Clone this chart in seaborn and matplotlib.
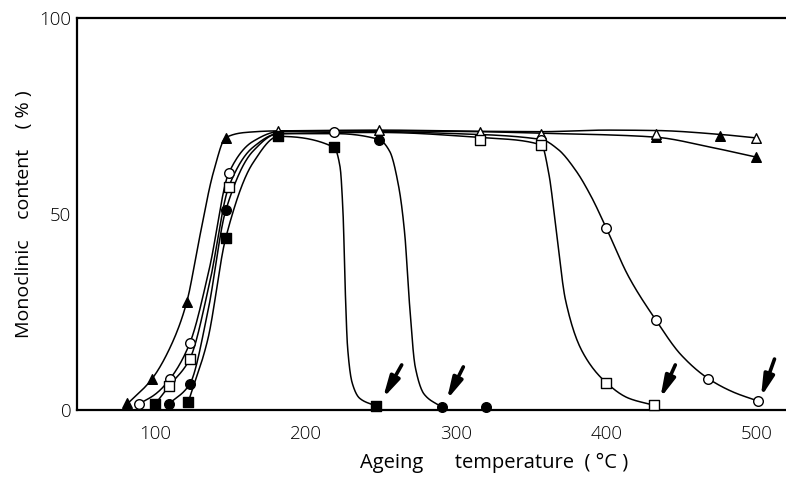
import numpy as np
import matplotlib
matplotlib.use("Agg")
import matplotlib.pyplot as plt
import seaborn as sns

# Measured points (ageing temperature in °C, monoclinic content in %)
tri_f_T = [81, 98, 121, 147, 433, 476, 500]
tri_f_Y = [1.8, 8, 27.5, 69.5, 69.6, 69.8, 64.5]

tri_o_T = [182, 249, 316, 357, 433, 500]
tri_o_Y = [71.2, 71.4, 71.0, 70.5, 70.3, 69.4]

circ_o_T = [89, 110, 123, 149, 219, 357, 400, 433, 468, 501]
circ_o_Y = [1.5, 8, 17, 60.5, 71, 69, 46.5, 23, 8, 2.3]

sq_o_T = [109, 123, 149, 316, 357, 400, 432]
sq_o_Y = [6, 13, 57, 69, 67.6, 7, 1.2]

circ_f_T = [109, 123, 147, 249, 291, 320]
circ_f_Y = [1.5, 6.6, 51, 69, 0.7, 0.7]

sq_f_T = [100, 122, 147, 182, 219, 247]
sq_f_Y = [1.5, 2, 44, 69.8, 67, 1]

# Nodes of the hand-drawn guide curves
curve_tri_f_T = [80, 98, 110, 121, 129, 139, 147, 160, 182, 250, 316, 357, 400, 433, 470, 500]
curve_tri_f_Y = [1.0, 8, 16, 27.5, 43, 61, 69.5, 70.8, 71.2, 71.2, 71.0, 70.6, 70.2, 69.6, 67, 64.5]

curve_tri_o_T = [182, 250, 316, 357, 400, 433, 476, 500]
curve_tri_o_Y = [71.2, 71.4, 71.1, 71.0, 71.4, 71.3, 70.3, 69.4]

curve_circ_o_T = [89, 100, 110, 123, 136, 149, 165, 182, 219, 300, 357, 368, 380, 390, 400, 415, 433, 450, 468, 485, 501]
curve_circ_o_Y = [1.5, 4, 8, 17, 36, 60.5, 68.5, 71, 71.2, 70.5, 69, 66.5, 61, 54.5, 46.5, 34, 23, 14, 8, 4.5, 2.3]

curve_sq_o_T = [100, 109, 123, 136, 149, 165, 182, 250, 316, 357, 362, 367, 373, 384, 400, 415, 432]
curve_sq_o_Y = [1.5, 6, 13, 32, 57, 67, 70.5, 70.8, 69.5, 67.6, 60, 45, 28, 15, 7, 3, 1.2]

curve_circ_f_T = [109, 123, 135, 147, 165, 182, 220, 249, 256, 262, 266, 269, 273, 279, 291]
curve_circ_f_Y = [1.5, 6.6, 25, 51, 66, 70.5, 70.5, 69, 66, 57, 45, 28, 11, 4, 0.7]

curve_sq_f_T = [122, 135, 147, 165, 182, 219, 223, 225, 226.5, 228, 231, 236, 247]
curve_sq_f_Y = [2, 18, 44, 63, 69.8, 67, 62, 50, 30, 16, 7, 3, 1]

# Arrows marking the end of each transformation (tail -> head)
arrow_tails = [(264, 11.5), (305, 11.0), (446, 11.5), (512, 13.0)]
arrow_heads = [(251.5, 3.0), (294, 2.6), (436, 3.0), (503, 3.3)]

x_ticks = [100, 150, 200, 250, 300, 350, 400, 450, 500]
x_ticklabels = ["100", "", "200", "", "300", "", "400", "", "500"]
y_ticks = [0, 50, 100]


def pchip(x, y, xs):
    """Shape-preserving cubic through the curve nodes."""
    x = np.asarray(x, float)
    y = np.asarray(y, float)
    h = np.diff(x)
    d = np.diff(y) / h
    n = len(x)
    m = np.zeros(n)
    for k in range(1, n - 1):
        if d[k - 1] * d[k] <= 0:
            m[k] = 0.0
        else:
            w1 = 2 * h[k] + h[k - 1]
            w2 = h[k] + 2 * h[k - 1]
            m[k] = (w1 + w2) / (w1 / d[k - 1] + w2 / d[k])
    m[0] = d[0]
    m[-1] = d[-1]
    idx = np.clip(np.searchsorted(x, xs) - 1, 0, n - 2)
    t = (xs - x[idx]) / h[idx]
    h00 = 2 * t**3 - 3 * t**2 + 1
    h10 = t**3 - 2 * t**2 + t
    h01 = -2 * t**3 + 3 * t**2
    h11 = t**3 - t**2
    return h00 * y[idx] + h10 * h[idx] * m[idx] + h01 * y[idx + 1] + h11 * h[idx] * m[idx + 1]


sns.set_style("white")
plt.rcParams["font.family"] = ["Open Sans", "DejaVu Sans"]
plt.rcParams["font.weight"] = "light"
plt.rcParams["text.color"] = "black"
plt.rcParams["axes.labelcolor"] = "black"
plt.rcParams["xtick.color"] = "black"
plt.rcParams["ytick.color"] = "black"

fig = plt.figure(figsize=(7.86, 4.82), dpi=100)
ax = fig.add_axes([77 / 786, 1 - 410 / 482, 1 - 77 / 786 + 0.002, (410 - 18) / 482])

curves = [
    (curve_tri_f_T, curve_tri_f_Y),
    (curve_tri_o_T, curve_tri_o_Y),
    (curve_circ_o_T, curve_circ_o_Y),
    (curve_sq_o_T, curve_sq_o_Y),
    (curve_circ_f_T, curve_circ_f_Y),
    (curve_sq_f_T, curve_sq_f_Y),
]
for cT, cY in curves:
    xs = np.linspace(cT[0], cT[-1], 600)
    ys = pchip(cT, cY, xs)
    sns.lineplot(x=xs, y=ys, ax=ax, color="black", linewidth=1.1,
                 sort=False, estimator=None, zorder=2)

series = [
    (tri_f_T, tri_f_Y, "^", "black"),
    (tri_o_T, tri_o_Y, "^", "white"),
    (circ_o_T, circ_o_Y, "o", "white"),
    (sq_o_T, sq_o_Y, "s", "white"),
    (circ_f_T, circ_f_Y, "o", "black"),
    (sq_f_T, sq_f_Y, "s", "black"),
]
for T, Y, mk, fc in series:
    sns.scatterplot(x=T, y=Y, ax=ax, marker=mk, color=fc, edgecolor="black",
                    linewidth=1.0, s=48, zorder=4, clip_on=False)

for (tx, ty), (hx, hy) in zip(arrow_tails, arrow_heads):
    ax.annotate("", xy=(hx, hy), xytext=(tx, ty),
                arrowprops=dict(arrowstyle="-|>,head_length=0.9,head_width=0.22",
                                mutation_scale=14, color="black", lw=2.6,
                                shrinkA=0, shrinkB=0),
                annotation_clip=False, zorder=5)

ax.set_xlim(48, 520.7)
ax.set_ylim(0, 100)

ax.set_xticks(x_ticks)
ax.set_xticklabels(x_ticklabels)
ax.set_yticks(y_ticks)
ax.set_yticks(np.arange(0, 101, 10), minor=True)
ax.tick_params(axis="x", direction="in", length=7, width=1.2, labelsize=13.5,
               pad=11, colors="black")
ax.tick_params(axis="y", which="both", direction="in", length=6, width=1.2,
               labelsize=13.5, pad=4, colors="black")

for side in ["left", "top", "bottom"]:
    ax.spines[side].set_visible(True)
    ax.spines[side].set_color("black")
    ax.spines[side].set_linewidth(1.6)
ax.spines["right"].set_visible(False)

ax.set_xlabel("Ageing      temperature  ( °C )", fontsize=14.5, color="black")
ax.xaxis.set_label_coords((493 - 77) / (786 - 77), -0.11)
ax.set_ylabel("Monoclinic    content    ( % )", fontsize=14, color="black")
ax.yaxis.set_label_coords(-0.062, 0.5)

fig.savefig("out.png", dpi=100)
